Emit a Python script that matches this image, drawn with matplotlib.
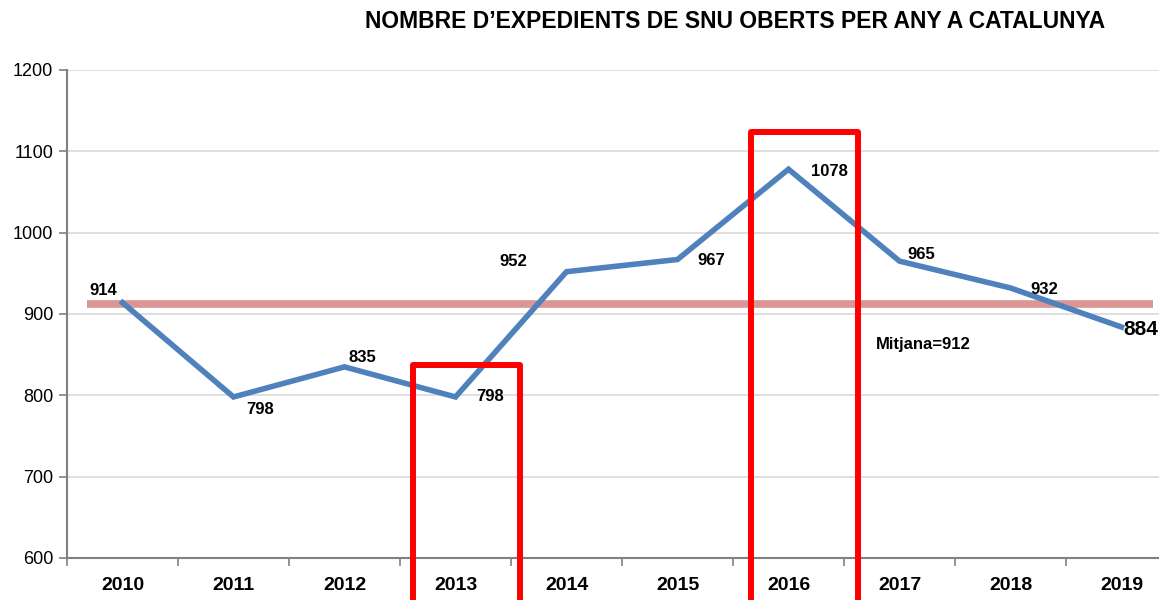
import matplotlib
matplotlib.use("Agg")
import matplotlib.pyplot as plt
from matplotlib.patches import Rectangle
from matplotlib import font_manager

years = ["2010", "2011", "2012", "2013", "2014", "2015", "2016", "2017", "2018", "2019"]
values = [914, 798, 835, 798, 952, 967, 1078, 965, 932, 884]
mean_value = 912
title = "NOMBRE D\u2019EXPEDIENTS DE SNU OBERTS PER ANY A CATALUNYA"
mean_label = "Mitjana=912"
highlight_years = ["2013", "2016"]
highlight_tops = [837, 1124]

names = {f.name for f in font_manager.fontManager.ttflist}
fam = ["Liberation Sans Narrow", "Liberation Sans", "DejaVu Sans"]
fam = [f for f in fam if f in names] or ["DejaVu Sans"]
plt.rcParams['font.family'] = fam

fig = plt.figure(figsize=(11.59, 6), dpi=100)
ax = fig.add_axes([67/1159, 1-558/600, 1110/1159, (558-70)/600])

x = list(range(len(years)))
ax.set_xlim(-0.5, len(years) - 0.5)
ax.set_ylim(600, 1200)
ax.set_yticks(range(600, 1201, 100))
ax.yaxis.grid(True, color="#d9d9d9", lw=1.2)
ax.set_axisbelow(True)

ax.plot(x, values, color="#4F81BD", lw=4, zorder=3, solid_joinstyle="miter")
ax.plot([-0.32, 9.28], [mean_value, mean_value], color="#D99694", lw=5.5, zorder=2,
        solid_capstyle="butt")

ax.set_xticks(x)
ax.set_xticklabels(years, fontsize=14, fontweight="bold")
ax.set_xticks([i - 0.5 for i in range(len(years) + 1)], minor=True)
ax.tick_params(axis="x", which="major", length=0, pad=14)
ax.tick_params(axis="x", which="minor", length=6, color="#808080", width=1.2)
ax.tick_params(axis="y", length=6, color="#808080", width=1.2, labelsize=13, pad=4)

for s in ["top", "right"]:
    ax.spines[s].set_visible(False)
for s in ["left", "bottom"]:
    ax.spines[s].set_color("#808080")
    ax.spines[s].set_linewidth(1.5)

# data labels (offsets in points)
offsets = [(-24, 9), (9, -9), (3, 7), (15, 0), (-48, 7), (14, -1), (16, -1.5), (6, 5), (14, -1), (1, -1.5)]
for i, (v, off) in enumerate(zip(values, offsets)):
    size = 15 if i == len(values) - 1 else 12
    ax.annotate(str(v), (i, v), xytext=off, textcoords="offset points",
                fontsize=size, fontweight="bold", ha="left", va="center", zorder=5)

ax.text(6.79, 863, mean_label, fontsize=12, fontweight="bold", ha="left", va="center")

box_shift = [-0.383, -0.34]
for yr, top, sh in zip(highlight_years, highlight_tops, box_shift):
    i = years.index(yr)
    r = Rectangle((i + sh, 540), 0.964, top - 540, fill=False, edgecolor="#FF0000",
                  lw=4.3, clip_on=False, zorder=6, joinstyle="round")
    ax.add_patch(r)

fig.text(735/1159, 1-22/600, title, fontsize=16.5, fontweight="bold", ha="center", va="center")

fig.savefig("out.png", dpi=100)
